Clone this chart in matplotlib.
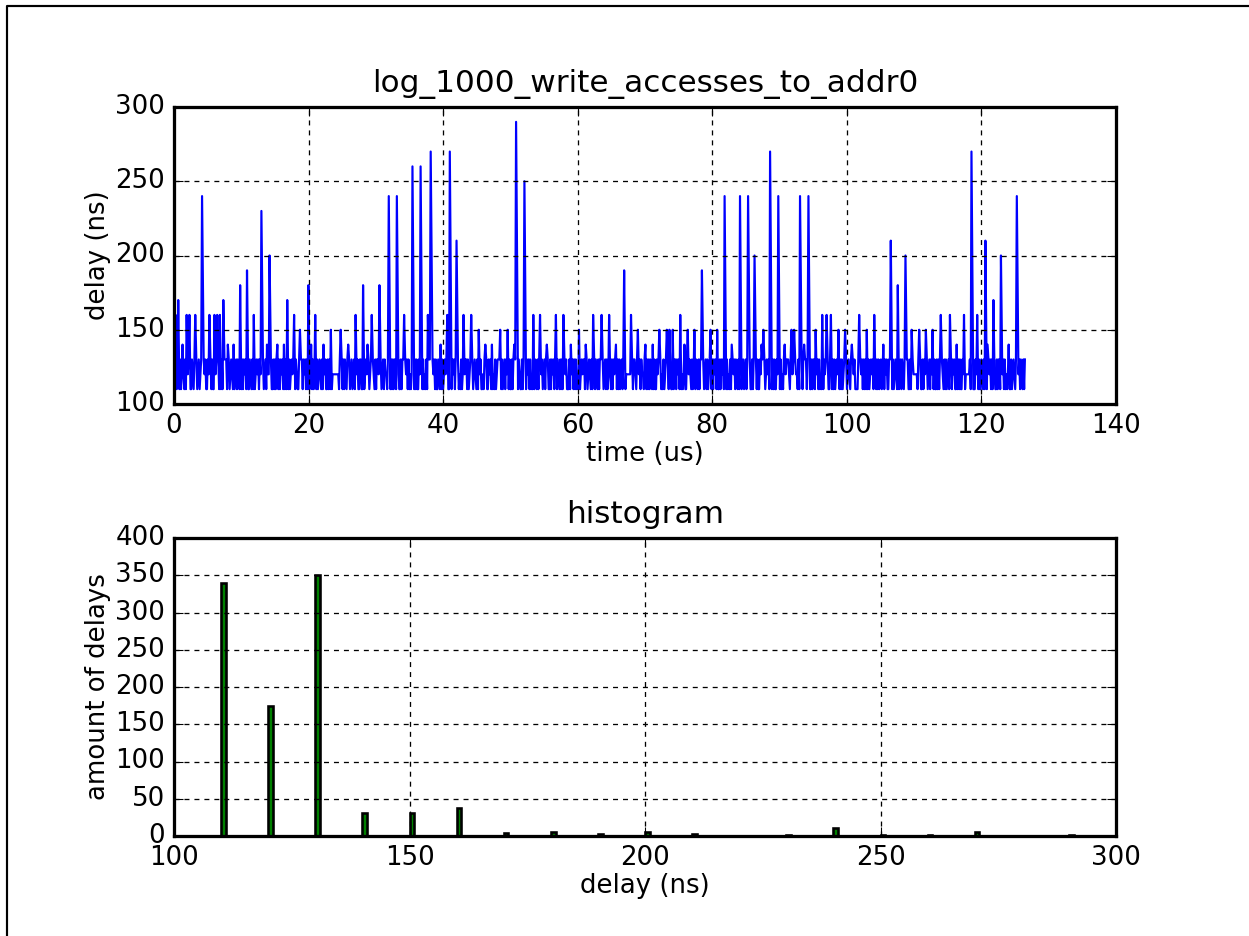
import numpy as np
import matplotlib
matplotlib.use('Agg')
import matplotlib.pyplot as plt
from matplotlib.lines import Line2D

# write delays, one char per access: 1 -> 110 ns, 2 -> 120 ns, 3 -> 130 ns
delay_rows = [
    "31312313123213132311" "13213131231231323113" "21313113231312131233" "31131232131231321313" "13231311321313123231",
    "32131231322131131313" "11313231313121312323" "31321131331323131212" "31312313123213132311" "31312122222222131313",
    "13213131231231323113" "31131232131231321313" "32131231322131131313" "31321131331323131212" "21313113231312131233",
    "13231311321313123231" "11313231313121312323" "31312313123213132311" "21313113231312131233" "32131231322131131313",
    "31321131331323131212" "13213131231231323113" "13231311321313123231" "11313231313121312323" "31131232131231321313",
    "31312313123213132311" "31312313112222221313" "32131231322131131313" "21313113231312131233" "31321131331323131212",
    "31131232131231321313" "31312313123213132311" "11313231313121312323" "13213131231231323113" "13231311321313123231",
    "21313113231312131233" "32131231322131131313" "31321131331323131212" "13231311321313123231" "31312313123213132311",
    "11313231313121312323" "13213131231231323113" "31131232131231321313" "31131232222213131131" "32131231322131131313",
    "13213131231231323113" "13131132312222231311" "13231311321313123231" "31321131331323131212" "31131232131231321313",
]

# the taller accesses
spike_index = [2, 5, 10, 15, 18, 25, 33, 41, 47, 50, 53, 57, 62, 69, 77, 85, 93,
               102, 108, 111, 120, 128, 132, 140, 147, 157, 160, 165, 175, 184, 196,
               205, 214, 223, 228, 233, 242, 253, 262, 270, 280, 289, 297,
               300, 311, 319, 322, 329, 337, 346, 355, 363, 371, 381, 390, 398,
               400, 409, 419, 427, 435, 446, 455, 464, 474, 482, 491,
               501, 510, 518, 528, 536, 544, 553, 562, 570, 579, 582, 586, 595,
               600, 604, 612, 621, 631, 639, 648, 656, 666, 675, 682, 690, 692,
               700, 709, 716, 724, 727, 734, 738, 743, 751, 759, 764, 769, 778, 786, 794,
               803, 812, 821, 832, 841, 849, 858, 865, 874, 882, 890,
               900, 911, 919, 928, 937, 943, 953, 955, 962, 971, 980, 990]
spike_delay = [160, 170, 140, 160, 160, 160, 240, 160, 160, 160, 160, 170, 140, 140, 180, 190, 160,
               230, 140, 200, 140, 140, 170, 160, 150, 180, 140, 160, 140, 150, 150,
               140, 160, 180, 140, 160, 180, 240, 240, 160, 260, 260, 160,
               270, 140, 160, 270, 210, 160, 160, 150, 140, 140, 150, 150, 140,
               290, 250, 160, 160, 140, 160, 160, 140, 150, 140, 160,
               160, 160, 140, 190, 160, 150, 140, 140, 150, 150, 150, 150, 160,
               140, 150, 150, 190, 150, 150, 240, 140, 240, 240, 200, 140, 150,
               270, 240, 140, 150, 150, 240, 140, 240, 150, 160, 160, 160, 150, 150, 140,
               160, 150, 160, 140, 210, 180, 200, 150, 150, 150, 150,
               160, 160, 140, 160, 270, 160, 210, 140, 170, 200, 140, 240]

# histogram of the delays
hist_delay = [110, 120, 130, 140, 150, 160, 170, 180, 190, 200, 210, 230, 240, 250, 260, 270, 290]
hist_count = [340, 175, 350, 31, 31, 37, 4, 6, 3, 6, 3, 1, 11, 1, 1, 5, 1]

codes = "".join(delay_rows)
delays = np.array([100 + 10 * int(c) for c in codes], dtype=float)
for i, d in zip(spike_index, spike_delay):
    delays[i] = d
time_us = np.concatenate([[0.0], np.cumsum(delays)[:-1]]) / 1000.0

plt.style.use('classic')
plt.rcParams['font.family'] = ['DejaVu Sans']
plt.rcParams['axes.linewidth'] = 1.5

W, H = 1249, 936
fig = plt.figure(figsize=(W / 156.0, H / 156.0), dpi=156, facecolor='white')
grid_style = dict(color='k', linestyle=(0, (2.3, 2.3)), lw=0.6)

ax1 = fig.add_axes([174 / W, 1 - 404 / H, 942 / W, 297 / H])
ax1.plot(time_us, delays, color='b', lw=1.0)
ax1.set_xlim(0, 140)
ax1.set_ylim(100, 300)
ax1.set_xticks(np.arange(0, 141, 20))
ax1.set_yticks(np.arange(100, 301, 50))
ax1.grid(True, **grid_style)
ax1.set_title('log_1000_write_accesses_to_addr0', pad=7)
ax1.set_xlabel('time (us)', labelpad=1)
ax1.set_ylabel('delay (ns)', labelpad=2)

ax2 = fig.add_axes([174 / W, 1 - 836 / H, 942 / W, 298 / H])
ax2.bar(hist_delay, hist_count, width=1.0, align='edge', color='g', edgecolor='k', lw=1.2)
ax2.set_xlim(100, 300)
ax2.set_ylim(0, 400)
ax2.set_xticks(np.arange(100, 301, 50))
ax2.set_yticks(np.arange(0, 401, 50))
ax2.grid(True, **grid_style)
ax2.set_title('histogram', pad=7)
ax2.set_xlabel('delay (ns)', labelpad=1)
ax2.set_ylabel('amount of delays', labelpad=2)

# page frame around the figure
fig.add_artist(Line2D([7 / W, 7 / W, 1.0], [0.0, 1 - 6 / H, 1 - 6 / H],
                      transform=fig.transFigure, color='k', lw=1.0))

fig.savefig('out.png', dpi=156, facecolor='white')
